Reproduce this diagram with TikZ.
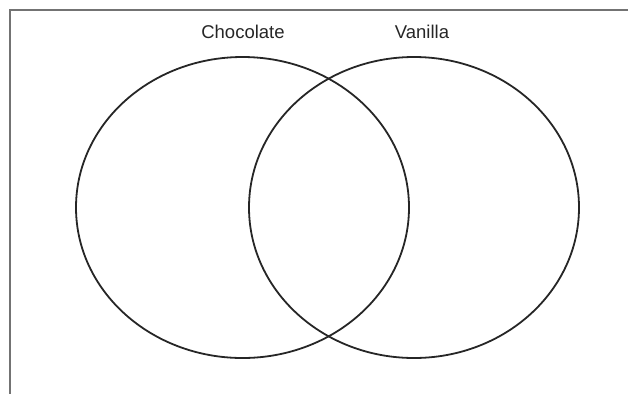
\documentclass[tikz,border=0pt]{standalone}
\usepackage{fontspec}
\setmainfont{Liberation Sans}
\usetikzlibrary{shapes.geometric}
\begin{document}
\begin{tikzpicture}[x=1pt,y=-1pt,
  frameline/.style={draw=black!55,line width=1.8pt},
  setline/.style={draw=black!85,line width=1.8pt,ellipse,inner sep=0pt,outer sep=0pt},
  label/.style={font=\fontsize{18.5}{22}\selectfont,text=black!85,inner sep=0pt}]
\useasboundingbox (0,0) rectangle (628,394);
\coordinate (tl) at (10,10);
\coordinate (tr) at (628,10);
\coordinate (bl) at (10,394);
\draw[frameline] (tr) -- (tl) -- (bl);
\node[setline,minimum width=333pt,minimum height=301pt] (choccircle) at (242.5,207.5) {};
\node[setline,minimum width=330pt,minimum height=301pt] (vancircle) at (414,207.5) {};
\node[label] (choc) at (243,32) {Chocolate};
\node[label] (van) at (422,32) {Vanilla};
\end{tikzpicture}
\end{document}
